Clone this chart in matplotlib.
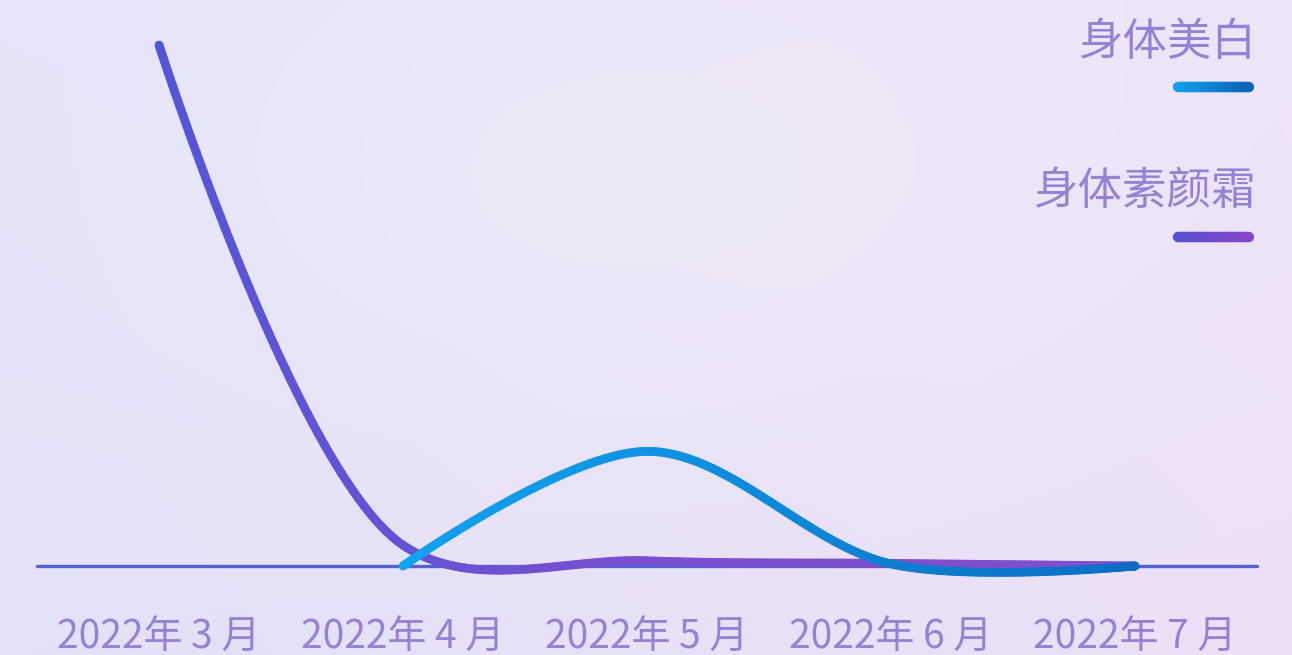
import numpy as np
import matplotlib.pyplot as plt
from matplotlib.collections import LineCollection
from matplotlib.colors import LinearSegmentedColormap

plt.rcParams['font.family'] = ['Noto Sans CJK SC', 'DejaVu Sans']

months = ['2022年 3 月', '2022年 4 月', '2022年 5 月', '2022年 6 月', '2022年 7 月']
cream_name = '身体素颜霜'
cream = [100, 4, 1, 0.5, 0]
whitening_name = '身体美白'
whitening_months = [1, 2, 3, 4]  # series starts in April
whitening = [0, 22, 0.4, 0]

text_color = '#9582d4'
blue_cmap = LinearSegmentedColormap.from_list('blue', ['#12a6f2', '#0b6cc2'])
purple_cmap = LinearSegmentedColormap.from_list('purple', ['#5156d8', '#7a4fd0', '#8050cc'])
blue_key = LinearSegmentedColormap.from_list('bk', ['#10a2ef', '#0a66bb'])
purple_key = LinearSegmentedColormap.from_list('pk', ['#5650d2', '#8248c8'])


def catmull_rom(ax, xs, ys, alpha=0.5, n=60):
    # centripetal catmull-rom, computed in screen space
    pts = ax.transData.transform(np.column_stack([xs, ys]).astype(float))
    out = [pts[0]]
    for i in range(len(pts) - 1):
        p0 = pts[i - 1] if i > 0 else pts[i]
        p1, p2 = pts[i], pts[i + 1]
        p3 = pts[i + 2] if i + 2 < len(pts) else pts[i + 1]
        l01, l12, l23 = (np.hypot(*(b - a)) for a, b in ((p0, p1), (p1, p2), (p2, p3)))
        a01, a12, a23 = l01 ** alpha, l12 ** alpha, l23 ** alpha
        c1, c2 = p1.copy(), p2.copy()
        if a01 > 1e-9:
            a = 2 * a01 ** 2 + 3 * a01 * a12 + a12 ** 2
            c1 = (p1 * a - p0 * a12 ** 2 + p2 * a01 ** 2) / (3 * a01 * (a01 + a12))
        if a23 > 1e-9:
            b = 2 * a23 ** 2 + 3 * a23 * a12 + a12 ** 2
            c2 = (p2 * b + p1 * a23 ** 2 - p3 * a12 ** 2) / (3 * a23 * (a23 + a12))
        t = np.linspace(0, 1, n)[1:, None]
        out.extend((1 - t) ** 3 * p1 + 3 * (1 - t) ** 2 * t * c1
                   + 3 * (1 - t) * t ** 2 * c2 + t ** 3 * p2)
    return ax.transData.inverted().transform(np.array(out))


def gradient_line(ax, pts, cmap, lw, zorder, transform=None):
    segs = np.stack([pts[:-1], pts[1:]], axis=1)
    lc = LineCollection(segs, cmap=cmap, linewidths=lw, capstyle='round',
                        zorder=zorder, clip_on=False)
    if transform is not None:
        lc.set_transform(transform)
    lc.set_array(np.linspace(0, 1, len(segs)))
    ax.add_collection(lc)


fig = plt.figure(figsize=(12.92, 6.55), dpi=100)

# soft lavender backdrop
bg = fig.add_axes([0, 0, 1, 1], zorder=-5)
corners = np.array([[[229, 228, 248], [238, 228, 248]],
                    [[227, 226, 246], [236, 224, 246]]]) / 255
gy, gx = np.mgrid[0:1:200j, 0:1:400j]
grad = (corners[0, 0] * ((1 - gx) * (1 - gy))[..., None] + corners[0, 1] * (gx * (1 - gy))[..., None]
        + corners[1, 0] * ((1 - gx) * gy)[..., None] + corners[1, 1] * (gx * gy)[..., None])
glow = np.exp(-(((gx - 0.5) / 0.35) ** 2 + ((gy - 0.3) / 0.4) ** 2))[..., None]
grad = grad + (1 - grad) * 0.2 * glow
bg.imshow(grad, aspect='auto', extent=[0, 1, 1, 0])
bg.set_xlim(0, 1)
bg.set_ylim(1, 0)
bg.axis('off')

ax = fig.add_axes([37 / 1292, (655 - 566) / 655, 1220 / 1292, (566 - 45) / 655])
ax.set_xlim(-0.5, len(months) - 0.5)
ax.set_ylim(0, 100)
ax.patch.set_alpha(0)
for s in ax.spines.values():
    s.set_visible(False)
ax.set_yticks([])
ax.set_xticks(range(len(months)))
ax.set_xticklabels(months, fontsize=28, color=text_color)
ax.tick_params(axis='x', length=0, pad=37)

ax.plot([-0.5, len(months) - 0.5], [0, 0], color='#5462d2', lw=2.4,
        solid_capstyle='round', zorder=1, clip_on=False)

cream_pts = catmull_rom(ax, range(len(months)), cream)
gradient_line(ax, cream_pts, purple_cmap, 6.3, 2)
white_pts = catmull_rom(ax, whitening_months, whitening)
gradient_line(ax, white_pts, blue_cmap, 6.3, 3)

# legend at top right
fig.text(1256 / 1292, 1 - 42 / 655, whitening_name, ha='right', va='center',
         fontsize=32, color=text_color)
fig.text(1256 / 1292, 1 - 191 / 655, cream_name, ha='right', va='center',
         fontsize=32, color=text_color)
key_x = np.linspace(1178, 1249, 30) / 1292
gradient_line(bg, np.column_stack([key_x, np.full_like(key_x, 1 - 87 / 655)]),
              blue_key, 7.5, 5, transform=fig.transFigure)
gradient_line(bg, np.column_stack([key_x, np.full_like(key_x, 1 - 237 / 655)]),
              purple_key, 7.5, 5, transform=fig.transFigure)
fig.savefig('out.png', dpi=100)
